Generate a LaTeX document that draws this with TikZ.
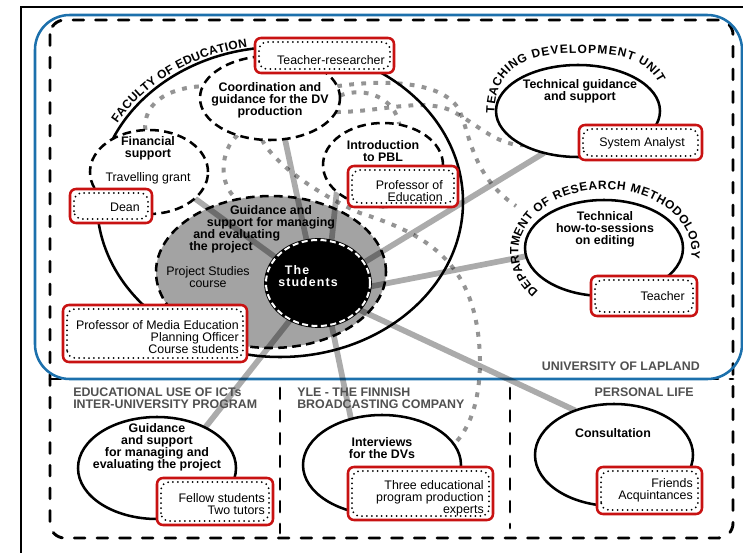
\documentclass[tikz,border=0pt]{standalone}
\usepackage{fontspec}
\setmainfont{Liberation Sans}
\newfontfamily\studfont[LetterSpace=9]{Liberation Sans}
\usetikzlibrary{shapes.geometric,decorations.text}
\pgfdeclarelayer{back}
\pgfdeclarelayer{conn}
\pgfsetlayers{back,conn,main}
\definecolor{boxred}{RGB}{200,18,18}
\definecolor{ublue}{RGB}{28,112,172}
\definecolor{headgray}{RGB}{80,80,80}
\definecolor{ellgray}{RGB}{163,163,163}
\newcommand\pxu{0.75pt}
\tikzset{
  ellip/.style 2 args={ellipse, inner sep=0pt, outer sep=0pt, minimum width=2*#1*\pxu, minimum height=2*#2*\pxu},
  dashell/.style={draw, fill=white, line width=1.9pt, dash pattern=on 6.5pt off 4pt},
  solell/.style={draw, fill=white, line width=1.9pt},
  rbox/.style 2 args={rectangle, draw=boxred, fill=white, line width=1.9pt, rounded corners=4.5pt, inner sep=0pt, outer sep=0pt, minimum width=#1*\pxu, minimum height=#2*\pxu,
    path picture={\draw[black, line width=1.5pt, dash pattern=on 0pt off 3.7pt, line cap=round, rounded corners=6pt]
      ([xshift=3pt,yshift=3pt]path picture bounding box.south west) rectangle ([xshift=-3pt,yshift=-3pt]path picture bounding box.north east);}},
  btxt/.style={font=\bfseries\fontsize{9.3}{9}\selectfont, align=center, inner sep=0pt},
  ntxt/.style={align=center, inner sep=0pt},
  boxtxt/.style={align=right, inner sep=0pt, anchor=east},
  head/.style={font=\bfseries\fontsize{9.3}{9}\selectfont, text=headgray, inner sep=0pt},
  framedash/.style={line width=2.2pt, dash pattern=on 8pt off 9pt, line cap=round},
  conline/.style={line width=4.3pt, black, opacity=0.33},
  dotline/.style={line width=3pt, black, opacity=0.42, dash pattern=on 3.6pt off 5.5pt},
  arctext/.style={decorate, decoration={text along path, text align={fit to path}, raise=-3.3pt, text={|\bfseries\fontsize{9}{9}\selectfont|#1}}},
}
\begin{document}
\begin{tikzpicture}[x=0.75pt,y=-0.75pt, font=\fontsize{9.3}{9}\selectfont]
\useasboundingbox (0,0) rectangle (743,553);

\begin{pgfonlayer}{back}
  \draw[line width=2pt] (21,7) rectangle (760,570);
  \draw[framedash, rounded corners=11pt] (50,20) rectangle (733,538);
  \draw[framedash] (50,379) -- (733,379);
  \draw[framedash] (280,388) -- (280,533);
  \draw[framedash] (510,388) -- (510,528);
  \draw[ublue, line width=1.9pt, rounded corners=26pt] (35,15) rectangle (742,379);
  \node[ellip={183}{155}, draw, line width=1.9pt] (fac) at (280,202) {};
  \node[ellip={115}{76}, draw, fill=ellgray, line width=1.9pt, dash pattern=on 6.5pt off 4pt] (guid) at (271,272) {};
\end{pgfonlayer}

% ellipses
\node[ellip={70}{42}, dashell] (coord) at (270,98) {};
\node[ellip={59}{42}, dashell] (fin) at (149,172) {};
\node[ellip={60}{42}, dashell] (pbl) at (383,165) {};
\node[ellip={82}{46}, solell] (tdu) at (578,111) {};
\node[ellip={79}{48}, solell] (dept) at (604,248) {};
\node[ellip={79}{51}, solell] (bguid) at (157,468) {};
\node[ellip={79}{50}, solell] (interv) at (382,465) {};
\node[ellip={79}{51}, solell] (consult) at (614,455) {};
\node[ellip={52}{43}, fill=black, draw=white, line width=1.5pt, dash pattern=on 4.5pt off 2.6pt,
      preaction={draw=black, solid, line width=2.8pt}] (stud) at (318,283) {};
\coordinate (d4end) at (516,206);

% boxes
\node[rbox={139}{35}] (tr) at (324.5,55.5) {};
\node[rbox={82}{34}] (dean) at (111,206) {};
\node[rbox={110}{41}] (pedu) at (403,186.5) {};
\node[rbox={184}{57}] (pmed) at (155,333.5) {};
\node[rbox={123}{35}] (sysa) at (640.5,142.5) {};
\node[rbox={106}{40}] (teach) at (644,296) {};
\node[rbox={116}{47}] (fellow) at (215,501.5) {};
\node[rbox={145}{53}] (three) at (420.5,493.5) {};
\node[rbox={105}{47}] (friends) at (649.5,490.5) {};

% connectors
\begin{pgfonlayer}{conn}
  \draw[conline] (fin.-30) -- (stud.149);
  \draw[conline] (coord.-70) -- (stud.105);
  \draw[conline] (pbl.210) -- (stud.72);
  \draw[conline] (tdu.231) -- (stud.24);
  \draw[conline] (dept.186) -- (stud.-4);
  \draw[conline] (consult.131) -- (stud.-33);
  \draw[conline] (interv.124) -- (stud.-72);
  \draw[conline] (bguid.40) -- (stud.233);
  \draw[dotline] (fin.95) .. controls (143,105) and (165,88) .. (coord.170);
  \draw[dotline] (coord.229) .. controls (220,150) and (218,185) .. (guid.115);
  \draw[dotline] (coord.259) .. controls (276,166) and (320,195) .. (360,213) .. controls (430,235) and (478,265) .. (480,360) .. controls (480,405) and (468,430) .. (interv.16);
  \draw[dotline] (coord.10) .. controls (380,80) and (440,80) .. (458,108) .. controls (470,130) and (470,175) .. (d4end);
  \draw[dotline] (coord.-12) .. controls (380,112) and (420,98) .. (450,110) .. controls (475,122) and (495,145) .. (tdu.212);
  \draw[dotline] (coord.2) .. controls (365,86) and (395,98) .. (pbl.68);
\end{pgfonlayer}

% arc labels
\path[arctext={FACULTY OF EDUCATION}] plot[domain=210:260, samples=30] ({280+192*cos(\x)},{202+162*sin(\x)});
\path[arctext={TEACHING DEVELOPMENT UNIT}] plot[domain=0:150, samples=45] ({580+90*sign(cos(177-\x))*abs(cos(177-\x))^0.74},{121-72*(sin(177-\x))^0.74});
\path[arctext={DEPARTMENT OF RESEARCH METHODOLOGY}] plot[domain=140:366, samples=60] ({605+91*cos(\x)},{252+67*sin(\x)});

% texts in ellipses
\node[btxt] (coordt) at (270,100) {Coordination and\\guidance for the DV\\production};
\node[btxt] (fint) at (148,148) {Financial\\support};
\node[ntxt] (fint2) at (148,178) {Travelling grant};
\node[btxt] (pblt) at (383,151) {Introduction\\to PBL};
\node[btxt] (guidt) at (271,217) {Guidance and\\support for managing};
\node[btxt, align=left, anchor=west] (guidt2) at (189,241.5) {\hspace*{3pt}and evaluating\\the project};
\node[ntxt] (pst) at (208,277.5) {Project Studies\\course};
\node[inner sep=0pt, align=left, anchor=west, text=white, font=\studfont\bfseries\fontsize{9.3}{9}\selectfont] (studt) at (278,276) {\hspace*{5pt}The\\students};
\node[btxt] (tdut) at (580,91) {Technical guidance\\and support};
\node[btxt] (deptt) at (605,229.5) {Technical\\how-to-sessions\\on editing};
\node[btxt] (bguidt) at (157,447) {Guidance\\and support\\for managing and\\evaluating the project};
\node[btxt] (intervt) at (382,448.5) {Interviews\\for the DVs};
\node[btxt] (consultt) at (613,433) {Consultation};

% texts in boxes
\node[boxtxt] (trt) at (385,60) {Teacher-researcher};
\node[boxtxt] (deant) at (140,207) {Dean};
\node[boxtxt] (pedut) at (443,191) {Professor of\\Education};
\node[boxtxt] (pmedt) at (239,337) {Professor of Media Education\\Planning Officer\\Course students};
\node[boxtxt] (sysat) at (685,143) {System Analyst};
\node[boxtxt] (teacht) at (685,296) {Teacher};
\node[boxtxt] (fellowt) at (265,504) {Fellow students\\Two tutors};
\node[boxtxt] (threet) at (484,498) {Three educational\\program production\\experts};
\node[boxtxt] (friendst) at (693,490) {Friends\\Acquintances};

% headings
\node[head, anchor=east] (ul) at (700,366) {UNIVERSITY OF LAPLAND};
\node[head, anchor=east] (pl) at (694,392) {PERSONAL LIFE};
\node[head, anchor=west, align=left] (ict) at (73,398.5) {EDUCATIONAL USE OF ICTs\\INTER-UNIVERSITY PROGRAM};
\node[head, anchor=west, align=left] (yle) at (297,398.5) {YLE - THE FINNISH\\BROADCASTING COMPANY};
\end{tikzpicture}
\end{document}
